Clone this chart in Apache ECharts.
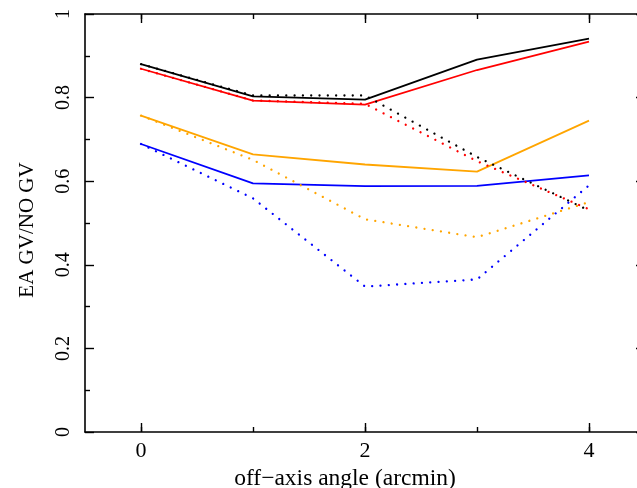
<!DOCTYPE html>
<html>
<head>
<meta charset="utf-8">
<script src="https://cdn.jsdelivr.net/npm/echarts@6/dist/echarts.min.js"></script>
<style>html,body{margin:0;padding:0;background:#fff}#c{width:637px;height:488px}</style>
</head>
<body>
<div id="c"></div>
<script>
const categories = ['0', '1', '2', '3', '4'];
const yTicks = [0, 0.2, 0.4, 0.6, 0.8, 1];
const blackSolid  = [0.880, 0.803, 0.795, 0.891, 0.941];
const redSolid    = [0.869, 0.793, 0.783, 0.866, 0.934];
const orangeSolid = [0.757, 0.664, 0.640, 0.623, 0.745];
const blueSolid   = [0.689, 0.595, 0.588, 0.589, 0.614];
const blackDotted = [0.880, 0.805, 0.805, 0.658, 0.530];
const redDotted   = [0.869, 0.793, 0.785, 0.648, 0.533];
const orangeDotted= [0.757, 0.651, 0.509, 0.466, 0.550];
const blueDotted  = [0.689, 0.559, 0.348, 0.365, 0.590];

const FONT = 'Liberation Serif';
const chart = echarts.init(document.getElementById('c'));
const lineAx = {show: true, lineStyle: {color: '#000', width: 1.6}};
function xAx(pos, major, withLine, extra) {
  return Object.assign({
    type: 'category', data: categories, position: pos, boundaryGap: true,
    axisLine: withLine ? lineAx : {show: false},
    axisTick: {show: true, inside: true, alignWithLabel: true,
      length: major ? 9 : 5,
      interval: major ? (i) => i % 2 === 0 : 0,
      lineStyle: {color: '#000', width: 1.4}},
    axisLabel: {show: false},
    splitLine: {show: false}
  }, extra || {});
}
function yAx(pos, withLabels, extra) {
  return Object.assign({
    type: 'value', position: pos, min: 0, max: 1, interval: 0.2,
    axisLine: lineAx,
    axisTick: {show: true, inside: true, length: 9, lineStyle: {color: '#000', width: 1.4}},
    minorTick: {show: true, splitNumber: 2, length: 5, lineStyle: {color: '#000', width: 1.4}},
    axisLabel: withLabels ? {show: true, rotate: 90, margin: 11, color: '#000', fontFamily: FONT, fontSize: 20,
      formatter: (v) => String(yTicks.find(t => Math.abs(t - v) < 1e-9) ?? v)} : {show: false},
    splitLine: {show: false}, minorSplitLine: {show: false}
  }, extra || {});
}
function ser(name, data, color, dotted) {
  return {
    name: name, type: 'line', data: data, xAxisIndex: 0, yAxisIndex: 0,
    symbol: 'none', silent: true, animation: false, z: dotted ? 3 : 2,
    lineStyle: dotted
      ? {color: color, width: 2.3, type: [0.01, 8.3], cap: 'round'}
      : {color: color, width: 1.8, type: 'solid'}
  };
}
chart.setOption({
  animation: false,
  backgroundColor: '#fff',
  grid: {left: 85, width: 560, top: 14, bottom: 56, containLabel: false, outerBoundsMode: 'none'},
  xAxis: [
    xAx('bottom', true, true, {
      axisLabel: {show: true, interval: 1, margin: 8, color: '#000', fontFamily: FONT, fontSize: 22},
      name: 'off\u2212axis angle (arcmin)', nameLocation: 'middle', nameGap: 30,
      nameTextStyle: {color: '#000', fontFamily: FONT, fontSize: 23.5, padding: [0, 40, 0, 0]}
    }),
    xAx('bottom', false, false),
    xAx('top', true, true),
    xAx('top', false, false)
  ],
  yAxis: [
    yAx('left', true, {
      name: 'EA GV/NO GV', nameLocation: 'middle', nameGap: 47,
      nameTextStyle: {color: '#000', fontFamily: FONT, fontSize: 21, padding: [0, 14, 0, 0]}
    }),
    yAx('right', false)
  ],
  series: [
    ser('black', blackSolid, '#000000', false),
    ser('red', redSolid, '#ff0000', false),
    ser('orange', orangeSolid, '#ffa500', false),
    ser('blue', blueSolid, '#0000ff', false),
    ser('black dotted', blackDotted, '#000000', true),
    ser('red dotted', redDotted, '#ff0000', true),
    ser('orange dotted', orangeDotted, '#ffa500', true),
    ser('blue dotted', blueDotted, '#0000ff', true)
  ]
});
</script>
</body>
</html>
